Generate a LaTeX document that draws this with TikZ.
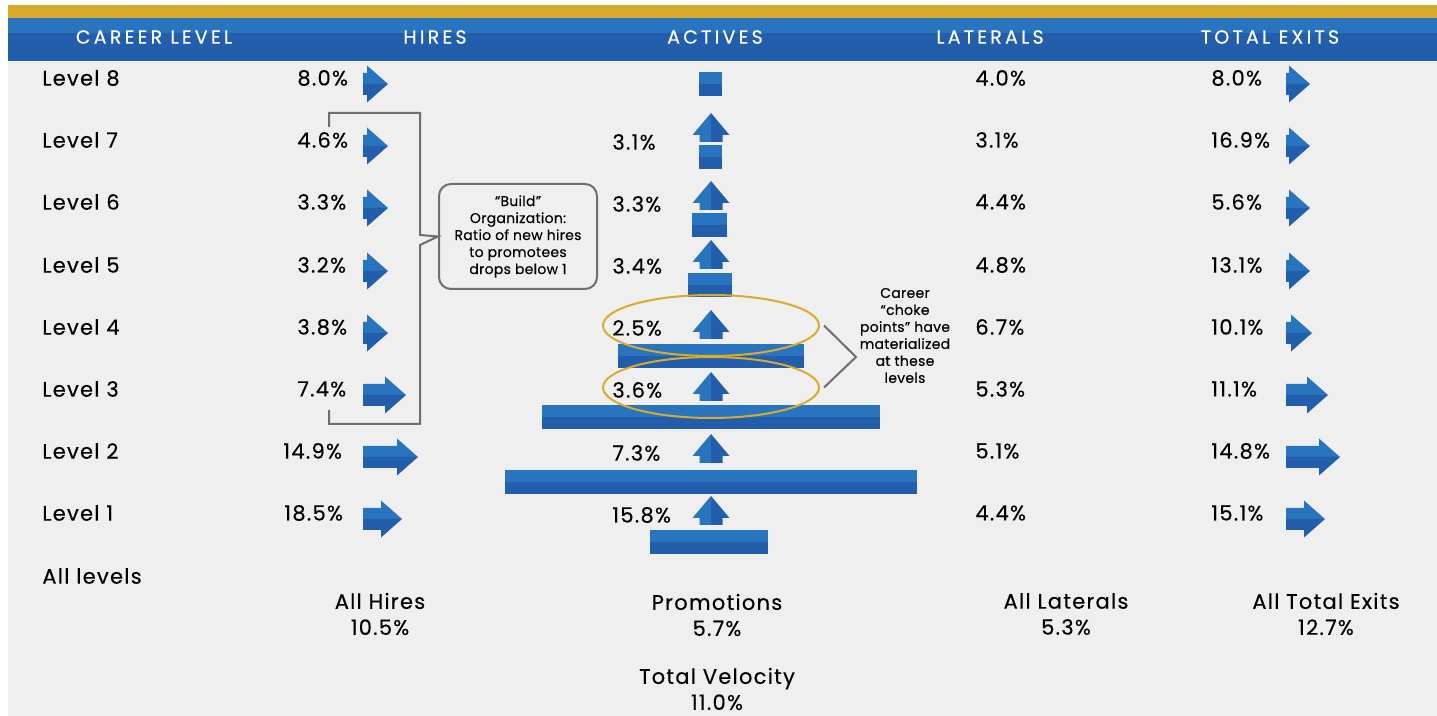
\documentclass[tikz,border=0pt]{standalone}
\usepackage{fontspec}
\setmainfont{Poppins}[Numbers=Monospaced, LetterSpace=6, FakeBold=0.3]
\newfontfamily\headfont{Poppins}[LetterSpace=17, FakeBold=0.4]
\newfontfamily\notefont{Poppins}[Numbers=Monospaced, LetterSpace=2, FakeBold=0.3]
\usepackage{tikz}
\usetikzlibrary{shapes.geometric, calc}
\definecolor{barblue}{RGB}{40,116,190}
\definecolor{barbluedark}{RGB}{34,94,172}
\definecolor{headgold}{RGB}{218,170,42}
\definecolor{panelgray}{RGB}{239,239,239}
\definecolor{linegray}{RGB}{110,110,110}

% right block arrow: start x, centre y, tail length
\newcommand{\flowarrow}[3]{%
  \fill[barblue] (#1,#2) -- (#1,#2-11) -- (#1+#3,#2-11) -- (#1+#3,#2-18.5) -- (#1+#3+21,#2) -- cycle;
  \fill[barbluedark] (#1,#2) -- (#1,#2+11) -- (#1+#3,#2+11) -- (#1+#3,#2+18.5) -- (#1+#3+21,#2) -- cycle;}
% up block arrow in the actives column: top y
\newcommand{\promoarrow}[1]{%
  \fill[barblue] (711,#1) -- (692.5,#1+22) -- (699.5,#1+22) -- (699.5,#1+29) -- (711,#1+29) -- cycle;
  \fill[barbluedark] (711,#1) -- (729.5,#1+22) -- (722.5,#1+22) -- (722.5,#1+29) -- (711,#1+29) -- cycle;}
% actives bar: left x, right x, top y
\newcommand{\levelbar}[3]{%
  \fill[barblue] (#1,#3) rectangle (#2,#3+12);
  \fill[barbluedark] (#1,#3+12) rectangle (#2,#3+24);}

\begin{document}
\begin{tikzpicture}[
    x=0.5pt, y=-0.5pt,
    head/.style={font=\headfont\fontsize{9.5}{11}\selectfont, text=white},
    lbl/.style={font=\fontsize{10.5}{13}\selectfont, inner sep=0pt},
    note/.style={font=\notefont\fontsize{7}{8.5}\selectfont, align=center, inner sep=0pt},
    callout/.style={rectangle, draw=linegray, line width=1pt, rounded corners=6pt, minimum width=79pt, minimum height=52.5pt, align=center},
    choke/.style={ellipse, draw=headgold, line width=1pt, minimum width=108pt, minimum height=30.5pt, inner sep=0pt},
    bracket/.style={draw=linegray, line width=1pt}
]
\useasboundingbox (0,0) rectangle (1437,716);
\fill[white] (0,0) rectangle (1437,716);
\fill[panelgray] (8,5) rectangle (1437,716);

% Header band
\fill[headgold] (8,5) rectangle (1437,18);
\fill[barblue] (8,18) rectangle (1437,33);
\fill[barbluedark] (8,33) rectangle (1437,61);
\node[head] (hlevel) at (154,37) {CAREER LEVEL};
\node[head] (hhires) at (435,37) {HIRES};
\node[head] (hactives) at (715,37) {ACTIVES};
\node[head] (hlaterals) at (990,37) {LATERALS};
\node[head] (hexits) at (1270,37) {TOTAL EXITS};

% Level rows
\foreach \lvl/\y/\hx/\hv/\hl/\lv/\ev/\el in {
    8/78/297/8.0/4/4.0/8.0/3,
    7/140/297/4.6/4/3.1/16.9/3,
    6/202/297/3.3/4/4.4/5.6/3,
    5/265/297/3.2/4/4.8/13.1/3,
    4/327/297/3.8/4/6.7/10.1/5,
    3/389/297/7.4/22/5.3/11.1/21,
    2/451/283/14.9/34/5.1/14.8/33,
    1/513/284/18.5/18/4.4/15.1/18} {
  \node[lbl, anchor=west] (level\lvl) at (42,\y) {Level \lvl};
  \node[lbl, anchor=west] (hire\lvl) at (\hx,\y) {\hv\%};
  \flowarrow{363}{\y+6}{\hl}
  \node[lbl, anchor=west] (lateral\lvl) at (975,\y) {\lv\%};
  \node[lbl, anchor=west] (exit\lvl) at (1211,\y) {\ev\%};
  \flowarrow{1286}{\y+6}{\el}
}

% Actives: promotion rates
\foreach \lvl/\y/\pv in {7/142/3.1, 6/204/3.3, 5/266/3.4, 4/328/2.5, 3/390/3.6, 2/453/7.3, 1/515/15.8} {
  \node[lbl, anchor=west] (promo\lvl) at (612,\y) {\pv\%};
}
\foreach \t in {113,181,240,310,372,434,496} {
  \promoarrow{\t}
}

% Actives: head count bars
\levelbar{699}{722}{72}
\levelbar{699}{722}{145}
\levelbar{692}{727}{213}
\levelbar{688}{732}{273}
\levelbar{618}{804}{344}
\levelbar{542}{880}{405}
\levelbar{505}{917}{470}
\levelbar{650}{768}{530}

% "Build" callout
\node[callout] (build) at (518,236.5) {};
\node[note] (buildtext) at (518,236.5) {“Build”\\Organization:\\Ratio of new hires\\to promotees\\drops below 1};
\draw[bracket] (329,127) -- (329,113) -- (420,113) -- (420,235) -- (build.west) -- (420,245) -- (420,424) -- (329,424) -- (329,410);

% Choke points
\node[choke] (choke4) at (711,325.5) {};
\node[choke] (choke3) at (711,387.5) {};
\node[note] (choketext) at (905,335.5) {Career\\“choke\\points” have\\materialized\\at these\\levels};
\draw[bracket] ($(choke4.east)+(4,0)$) -- (856,357) -- ($(choke3.east)+(4,0)$);

% All levels
\node[lbl, anchor=west] (alllevels) at (42,576) {All levels};
\node[lbl, align=center] (allhires) at (380,614) {All Hires\\10.5\%};
\node[lbl, align=center] (allpromos) at (717,615) {Promotions\\5.7\%};
\node[lbl, align=center] (alllaterals) at (1066,614) {All Laterals\\5.3\%};
\node[lbl, align=center] (allexits) at (1326,614) {All Total Exits\\12.7\%};
\node[lbl, align=center] (velocity) at (717,689) {Total Velocity\\11.0\%};

\end{tikzpicture}
\end{document}
